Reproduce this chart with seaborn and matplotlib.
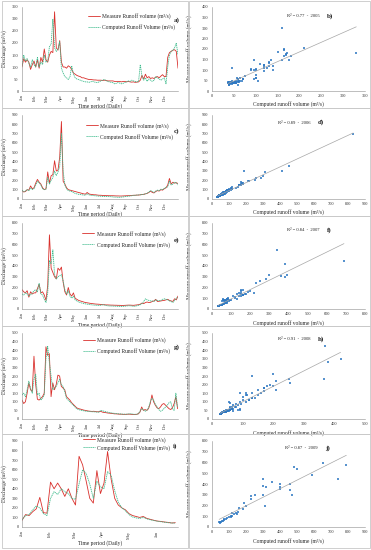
import matplotlib
matplotlib.use("Agg")
import matplotlib.pyplot as plt
import matplotlib.dates as mdates
from matplotlib.patches import Rectangle
import seaborn as sns
import numpy as np
import pandas as pd

# daily discharge every 4 days (m3/s), one line per month
meas_2005 = [100, 135, 120, 130, 120, 90, 110, 125,
             100, 130, 95, 140, 120, 175, 130,
             120, 150, 165, 160, 330, 180, 170, 210,
             120, 100, 100, 95, 105, 100, 90,
             75, 70, 65, 62, 60, 55, 55, 52,
             50, 48, 48, 47, 46, 46, 45, 45,
             45, 44, 45, 44, 42, 42, 42,
             42, 40, 40, 40, 40, 38, 40, 40,
             38, 40, 38, 37, 38, 36, 37, 38,
             45, 65, 50, 70, 55, 60, 52,
             55, 52, 58, 60, 55, 62, 68, 60,
             60, 140, 160, 165, 170, 172, 165, 95]
comp_2005 = [105, 150, 125, 135, 115, 100, 130, 110,
             100, 140, 100, 120, 110, 150, 120,
             125, 185, 195, 300, 180, 165, 175, 205,
             95, 75, 60, 55, 48, 60, 105,
             70, 55, 50, 48, 45, 42, 40, 38,
             38, 36, 38, 40, 38, 36, 35, 38,
             42, 45, 48, 44, 40, 38, 36,
             35, 30, 32, 35, 33, 30, 32, 35,
             38, 42, 40, 45, 42, 40, 38, 40,
             110, 60, 45, 55, 40, 50, 45,
             40, 45, 60, 55, 50, 45, 50, 55,
             30, 100, 150, 165, 170, 180, 200, 150]

meas_2006 = [90, 75, 80, 100, 95, 140, 110, 120,
             170, 210, 180, 160, 120, 100, 110,
             290, 170, 250, 260, 410, 300, 310, 450,
             830, 190, 160, 120, 100, 95, 90,
             85, 80, 75, 70, 65, 60, 55, 52,
             70, 55, 50, 48, 45, 45, 42, 40,
             40, 38, 38, 36, 36, 35, 35,
             35, 34, 33, 33, 32, 32, 33, 34,
             35, 36, 36, 38, 40, 40, 42, 42,
             45, 48, 50, 55, 60, 70, 85,
             70, 65, 80, 90, 85, 100, 95, 110,
             120, 150, 220, 160, 180, 170, 175, 165]
comp_2006 = [95, 80, 85, 100, 90, 120, 100, 110,
             150, 190, 175, 150, 110, 100, 105,
             230, 160, 200, 230, 300, 250, 290, 350,
             700, 300, 150, 110, 90, 85, 80,
             70, 60, 55, 50, 48, 45, 42, 40,
             55, 45, 40, 38, 36, 34, 32, 30,
             30, 28, 28, 27, 26, 25, 25,
             22, 20, 20, 18, 18, 20, 22, 25,
             28, 30, 32, 35, 38, 40, 42, 44,
             45, 48, 50, 55, 62, 75, 90,
             80, 70, 85, 95, 90, 105, 100, 115,
             125, 130, 190, 150, 160, 180, 175, 150]

meas_2007 = [180, 160, 150, 170, 110, 160, 140, 150,
             150, 190, 230, 150, 160, 130, 80,
             220, 690, 380, 340, 300, 280, 380, 360,
             390, 250, 160, 130, 200, 140, 120,
             150, 100, 90, 80, 75, 70, 65, 60,
             58, 55, 52, 50, 48, 46, 45, 44,
             42, 40, 40, 38, 38, 37, 36,
             36, 35, 35, 34, 34, 33, 33, 34,
             35, 36, 36, 35, 34, 36, 38, 40,
             45, 55, 50, 60, 65, 60, 62,
             70, 75, 90, 70, 72, 75, 78, 80,
             85, 90, 80, 75, 70, 95, 85, 120]
comp_2007 = [140, 130, 150, 140, 120, 130, 150, 170,
             180, 160, 240, 140, 130, 90, 60,
             150, 450, 420, 550, 320, 280, 300, 310,
             320, 260, 180, 140, 170, 120, 100,
             120, 85, 75, 65, 60, 55, 50, 48,
             45, 42, 40, 38, 36, 35, 34, 33,
             35, 40, 38, 32, 30, 28, 28,
             27, 26, 26, 25, 25, 24, 25, 26,
             28, 30, 30, 28, 25, 26, 30, 35,
             40, 50, 70, 95, 85, 80, 75,
             75, 70, 85, 80, 78, 80, 90, 95,
             90, 85, 75, 70, 60, 80, 100, 110]

meas_2008 = [110, 90, 100, 150, 210, 170, 160, 365,
             200, 115, 110, 120, 130, 150, 420,
             370, 380, 130, 210, 170, 200, 255, 250,
             190, 180, 170, 130, 120, 110, 95,
             85, 75, 65, 60, 58, 55, 52, 50,
             48, 46, 45, 44, 45, 43, 42, 42,
             45, 40, 38, 37, 35, 34, 33,
             32, 30, 30, 29, 28, 28, 27, 27,
             27, 28, 28, 27, 26, 26, 27, 30,
             40, 70, 50, 55, 50, 60, 90,
             140, 100, 80, 65, 60, 70, 85, 90,
             80, 70, 60, 55, 65, 90, 130, 60]
comp_2008 = [140, 150, 130, 170, 220, 180, 150, 230,
             260, 140, 150, 110, 120, 140, 350,
             425, 330, 250, 170, 180, 190, 210, 230,
             200, 190, 160, 120, 110, 100, 90,
             80, 70, 60, 55, 52, 50, 48, 46,
             45, 44, 43, 42, 42, 41, 40, 40,
             50, 48, 45, 42, 40, 38, 36,
             34, 33, 32, 30, 30, 29, 28, 28,
             28, 29, 30, 30, 28, 27, 28, 30,
             45, 60, 55, 45, 50, 65, 100,
             120, 110, 85, 70, 55, 45, 50, 60,
             70, 80, 95, 100, 60, 50, 150, 70]

# 2009 only runs January to late June
meas_2009 = [70, 130, 120, 160, 190, 310, 150, 145,
             470, 400, 460, 400, 320, 400, 300,
             230, 740, 650, 480, 300, 250, 590, 350,
             460, 790, 500, 300, 230, 200, 180,
             140, 120, 110, 100, 110, 90, 80, 70,
             62, 58, 52, 48, 42, 45]
comp_2009 = [75, 120, 130, 180, 220, 200, 140, 120,
             300, 370, 340, 400, 370, 350, 300,
             290, 450, 600, 560, 450, 300, 480, 420,
             400, 580, 540, 380, 260, 200, 170,
             130, 105, 95, 90, 100, 85, 75, 68,
             60, 55, 50, 45, 42, 40]

years = [2005, 2006, 2007, 2008, 2009]
r2_vals = ["0.77", "0.89", "0.84", "0.91", "0.87"]
line_labels = ["a)", "c)", "e)", "g)", "i)"]
scat_labels = ["b)", "d)", "f)", "h)", "j)"]
measured = [meas_2005, meas_2006, meas_2007, meas_2008, meas_2009]
computed = [comp_2005, comp_2006, comp_2007, comp_2008, comp_2009]

# axis settings per row
line_ymax = [350, 900, 800, 500, 900]
line_ystep = [50, 100, 100, 50, 100]
sc_xmax = [350, 900, 800, 500, 900]
sc_xstep = [50, 100, 100, 100, 100]
sc_ymax = [400, 900, 800, 500, 800]
sc_ystep = [50, 100, 100, 50, 100]

RED = "#D9302C"
GREEN = "#3DBB8C"
BLUE = "#2E78C2"
AX = "#8C8C8C"

sns.set_theme(style="white")
plt.rcParams["font.family"] = ["Liberation Serif", "DejaVu Serif"]

W, H = 371, 550
fig = plt.figure(figsize=(W / 100, H / 100), dpi=100)

rows_px = [(7, 91), (115, 199), (223, 309), (333, 419), (441, 527)]
boxes_px = [(1, 108), (108, 216), (216, 326), (326, 434), (434, 548)]
leg_pos = [(0.42, 0.93), (0.41, 0.91), (0.385, 0.91), (0.39, 0.95), (0.39, 1.05)]
leg_space = [0.9, 0.9, 0.9, 0.9, 0.35]
lab_y = [0.845, 0.81, 0.80, 0.84, 0.94]
r2_pos = [(0.49, 0.89), (0.43, 0.91), (0.49, 0.92), (0.43, 0.93), (0.48, 0.92)]
sc_lab_x = [0.75, 0.69, 0.75, 0.69, 0.74]


def style_axes(ax):
    sns.despine(ax=ax)
    for s in ["left", "bottom"]:
        ax.spines[s].set_color(AX)
        ax.spines[s].set_linewidth(0.4)
    ax.tick_params(labelsize=3.2, length=1.5, width=0.4, pad=1,
                   colors="#333333", direction="out")
    ax.tick_params(color=AX)


for i, year in enumerate(years):
    top, bot = rows_px[i]
    y0, y1 = boxes_px[i]
    for x0, w in [(1.5, 186), (188.5, 181)]:
        fig.add_artist(Rectangle((x0 / W, 1 - y1 / H), w / W, (y1 - y0) / H,
                                 transform=fig.transFigure, fill=False,
                                 ec="#C8C8C8", lw=0.6))

    meas = np.array(measured[i], dtype=float)
    comp = np.array(computed[i], dtype=float)
    dates = pd.date_range(f"{year}-01-01", periods=len(meas), freq="4D")

    # time series
    axl = fig.add_axes([22 / W, 1 - bot / H, 156 / W, (bot - top) / H])
    sns.lineplot(x=dates, y=meas, ax=axl, color=RED, lw=0.6,
                 label="Measure Runoff volume (m³/s)")
    sns.lineplot(x=dates, y=comp, ax=axl, color=GREEN, lw=0.6,
                 linestyle=(0, (1.5, 0.8)),
                 label="Computed Runoff Volume (m³/s)")
    end = pd.Timestamp(f"{year}-06-25") if year == 2009 else pd.Timestamp(f"{year}-12-31")
    axl.set_xlim(pd.Timestamp(f"{year}-01-01"), end)
    axl.set_ylim(0, line_ymax[i])
    axl.set_yticks(np.arange(0, line_ymax[i] + 1, line_ystep[i]))
    axl.xaxis.set_major_locator(mdates.MonthLocator())
    axl.xaxis.set_major_formatter(mdates.DateFormatter("%b"))
    style_axes(axl)
    axl.tick_params(axis="x", labelrotation=90)
    axl.set_xlabel("Time period (Daily)", fontsize=4)
    axl.set_ylabel("Discharge (m³/s)", fontsize=4)
    axl.xaxis.set_label_coords(0.5, -0.15)
    axl.yaxis.set_label_coords(-0.095, 0.5)
    axl.legend(loc="upper left", bbox_to_anchor=leg_pos[i], frameon=False,
               fontsize=4, handlelength=2.2, handletextpad=0.4,
               labelspacing=leg_space[i], borderpad=0, borderaxespad=0)
    axl.text(0.97, lab_y[i], line_labels[i], transform=axl.transAxes,
             fontsize=5, fontweight="bold", ha="left", va="center")

    # scatter with fitted line
    axr = fig.add_axes([212 / W, 1 - bot / H, 153 / W, (bot - top) / H])
    sns.regplot(x=meas, y=comp, ax=axr, ci=None, truncate=True, marker="s",
                scatter_kws=dict(s=2.8, color=BLUE, linewidths=0),
                line_kws=dict(color="#A6A6A6", lw=0.5))
    axr.set_xlim(0, sc_xmax[i])
    axr.set_ylim(0, sc_ymax[i])
    axr.set_xticks(np.arange(0, sc_xmax[i] + 1, sc_xstep[i]))
    axr.set_yticks(np.arange(0, sc_ymax[i] + 1, sc_ystep[i]))
    style_axes(axr)
    axr.set_xlabel("Computed runoff volume (m³/s)", fontsize=4)
    axr.set_ylabel("Measure runoff volume (m³/s)", fontsize=4)
    axr.xaxis.set_label_coords(0.5, -0.125)
    axr.yaxis.set_label_coords(-0.13, 0.5)
    axr.text(r2_pos[i][0], r2_pos[i][1], f"R² = {r2_vals[i]}  -  {year}",
             transform=axr.transAxes, fontsize=3.3, ha="left", va="center")
    axr.text(sc_lab_x[i], r2_pos[i][1], scat_labels[i], transform=axr.transAxes,
             fontsize=5, fontweight="bold", ha="left", va="center")

fig.savefig("out.png", dpi=100, facecolor="white")
